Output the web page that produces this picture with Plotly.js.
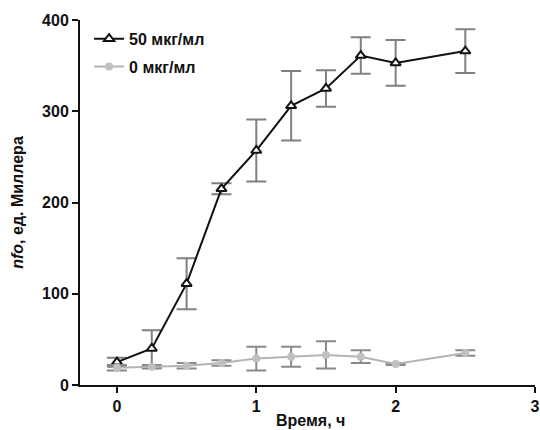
<!DOCTYPE html>
<html><head><meta charset="utf-8">
<script src="https://cdn.plot.ly/plotly-3.0.1.min.js"></script>
<style>html,body{margin:0;padding:0;background:#fff}#chart{width:540px;height:430px}</style>
</head><body><div id="chart"></div>
<script>
const time = [0, 0.25, 0.5, 0.75, 1, 1.25, 1.5, 1.75, 2, 2.5];
const conc50 = [25, 40, 111, 215, 257, 306, 325, 361, 353, 366];
const conc50Err = [5, 20, 28, 6, 34, 38, 20, 20, 25, 24];
const conc0 = [19, 20, 21, 24, 29, 31, 33, 31, 23, 35];
const conc0Err = [3, 2, 3, 3, 13, 11, 15, 7, 1, 3];
const seriesNames = ["50 мкг/мл", "0 мкг/мл"];
const xTicks = [0, 1, 2, 3];
const yTicks = [0, 100, 200, 300, 400];

const F = "Liberation Sans, Arial, sans-serif";
const traces = [
  {
    x: time, y: conc50, name: seriesNames[0], mode: "lines+markers", legendgroup: "a",
    line: {color: "#111", width: 2},
    marker: {symbol: "triangle-up", size: 9, color: "#fff", line: {color: "#111", width: 2}},
    error_y: {type: "data", array: conc50Err, visible: true, color: "#808080", thickness: 2, width: 10}
  },
  {
    x: time, y: conc0, name: seriesNames[1], mode: "lines+markers", legendgroup: "b",
    line: {color: "#b4b4b4", width: 2},
    marker: {symbol: "circle", size: 8, color: "#c0c0c0"},
    error_y: {type: "data", array: conc0Err, visible: true, color: "#8a8a8a", thickness: 2, width: 10}
  }
];
const layout = {
  width: 540, height: 430,
  margin: {l: 80, r: 5, t: 20, b: 45},
  paper_bgcolor: "#fff", plot_bgcolor: "#fff",
  font: {family: F, size: 16, color: "#111"},
  showlegend: true,
  legend: {x: 0.02, y: 0.995, xanchor: "left", yanchor: "top", bgcolor: "rgba(0,0,0,0)",
    font: {family: F, size: 16, color: "#111", weight: "bold"}, tracegroupgap: 4, traceorder: "grouped"},
  xaxis: {
    range: [-0.265, 3], tickvals: xTicks, ticktext: xTicks.map(String),
    showgrid: false, zeroline: false, showline: true, linecolor: "#111", linewidth: 2,
    ticks: "outside", ticklen: 6, tickwidth: 2, tickcolor: "#111",
    tickfont: {family: F, size: 16, weight: "bold"}
  },
  yaxis: {
    range: [0, 400], tickvals: yTicks, ticktext: yTicks.map(String),
    showgrid: false, zeroline: false, showline: true, linecolor: "#111", linewidth: 2,
    ticks: "outside", ticklen: 6, tickwidth: 2, tickcolor: "#111",
    tickfont: {family: F, size: 16, weight: "bold"},
    title: {text: "<i>nfo</i>, ед. Миллера", font: {family: F, size: 16, weight: "bold"}, standoff: 14}
  },
  annotations: [
    {text: "Время, ч", xref: "paper", yref: "paper", x: 0.507, y: -0.0986, xanchor: "center", yanchor: "middle",
     showarrow: false, font: {family: F, size: 16, weight: "bold", color: "#111"}}
  ]
};
Plotly.newPlot("chart", traces, layout, {displayModeBar: false, staticPlot: true});
</script></body></html>
